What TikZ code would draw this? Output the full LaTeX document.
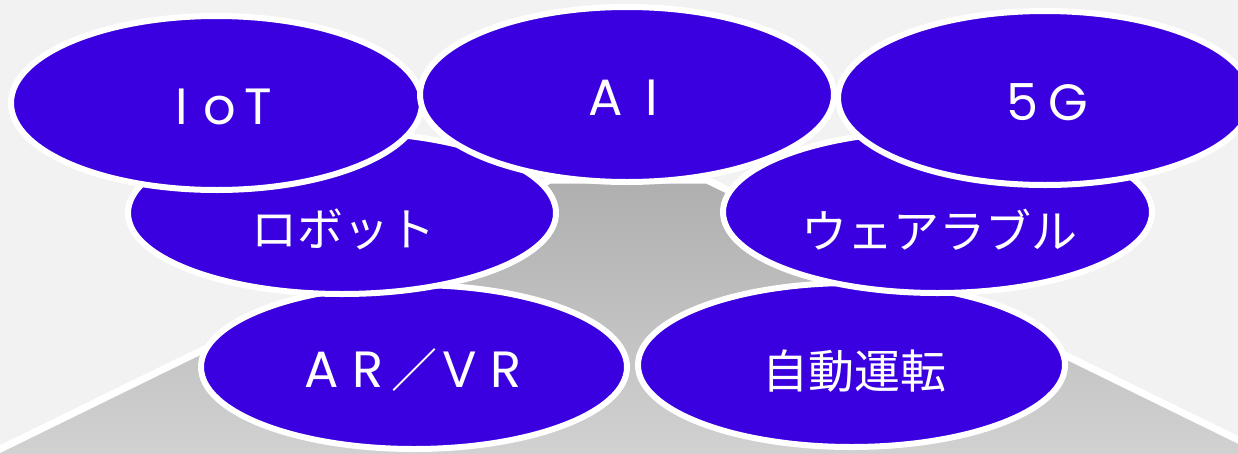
\documentclass[tikz,border=0pt]{standalone}
\usepackage{fontspec}
\newfontfamily\jp{Noto Sans CJK JP}
\newfontfamily\lat{Poppins}
\usetikzlibrary{shapes.geometric}
\definecolor{bgc}{HTML}{F2F2F2}
\definecolor{blob}{HTML}{3A00E0}
\definecolor{gtop}{HTML}{AFAFAF}
\definecolor{gbot}{HTML}{D4D4D4}
\newcommand{\cbx}[2]{\makebox[#1pt]{#2}}
\tikzset{
  blobnode/.style={ellipse, fill=blob, draw=white, line width=6pt, inner sep=0pt},
  lbl/.style={text=white, inner sep=0pt, font=\jp\fontsize{46}{50}\selectfont},
  latlbl/.style={text=white, inner sep=0pt, font=\lat\fontsize{51}{55}\selectfont},
}
\begin{document}
\begin{tikzpicture}[x=1pt,y=-1pt]
\useasboundingbox (0,0) rectangle (1238,453);
\clip (0,0) rectangle (1238,453);
\fill[bgc] (0,0) rectangle (1238,453);
% pyramid / trapezoid
\shadedraw[top color=gtop, bottom color=gbot, draw=white, line width=7pt]
  (-10,454) -- (550,180) -- (707,180) -- (1267,454) -- (1267,475) -- (-10,475) -- cycle;
% bottom row
\node[blobnode, minimum width=426pt, minimum height=164pt] (arvr) at (414,367) {};
\node[latlbl] (tarvr) at (414,370.5) {\cbx{46}{A}\cbx{46}{R}\cbx{46}{\jp\fontsize{46}{50}\selectfont ／}\cbx{46}{V}\cbx{46}{R}};
\node[blobnode, minimum width=427pt, minimum height=164pt] (auto) at (851.5,365) {};
\node[lbl] (tauto) at (854,371) {自動運転};
% middle row
\node[blobnode, minimum width=428pt, minimum height=162pt] (robot) at (342,213) {};
\node[lbl] (trobot) at (343,229) {ロボット};
\node[blobnode, minimum width=429pt, minimum height=162pt] (wear) at (937.5,212) {};
\node[lbl] (twear) at (939,230) {ウェアラブル};
% top row
\node[blobnode, minimum width=411pt, minimum height=174pt] (iot) at (216.5,103) {};
\node[latlbl] (tiot) at (220,106.5) {\cbx{38}{I}\cbx{38}{o}\cbx{38}{T}};
\node[blobnode, minimum width=414pt, minimum height=174pt] (fiveg) at (1045,98) {};
\node[latlbl] (tfiveg) at (1045,102) {\cbx{46}{5}\cbx{46}{G}};
\node[blobnode, minimum width=414pt, minimum height=175pt] (ai) at (627,94.5) {};
\node[latlbl] (tai) at (629,97.5) {\cbx{46}{A}\cbx{46}{I}};
\end{tikzpicture}
\end{document}
